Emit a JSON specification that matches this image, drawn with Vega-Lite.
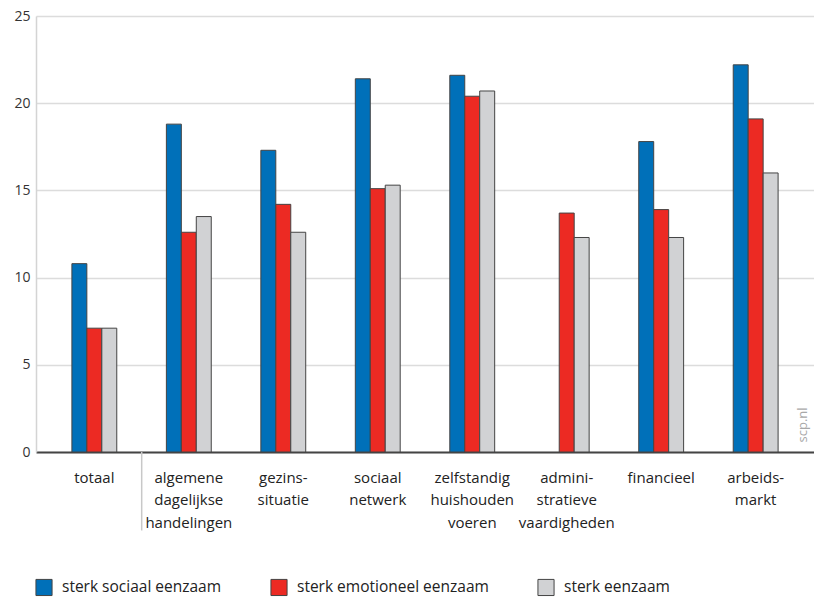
{
  "$schema": "https://vega.github.io/schema/vega-lite/v6.json",
  "width": 778,
  "height": 436,
  "autosize": {"type": "none"},
  "padding": {"left": 36, "top": 16, "right": 0, "bottom": 147},
  "background": "white",
  "config": {
    "view": {"stroke": null},
    "font": "Open Sans"
  },
  "datasets": {
    "bars": [
      {"cat": "totaal", "serie": "sterk sociaal eenzaam", "waarde": 10.8},
      {"cat": "totaal", "serie": "sterk emotioneel eenzaam", "waarde": 7.1},
      {"cat": "totaal", "serie": "sterk eenzaam", "waarde": 7.1},
      {"cat": "algemene|dagelijkse|handelingen", "serie": "sterk sociaal eenzaam", "waarde": 18.8},
      {"cat": "algemene|dagelijkse|handelingen", "serie": "sterk emotioneel eenzaam", "waarde": 12.6},
      {"cat": "algemene|dagelijkse|handelingen", "serie": "sterk eenzaam", "waarde": 13.5},
      {"cat": "gezins-|situatie", "serie": "sterk sociaal eenzaam", "waarde": 17.3},
      {"cat": "gezins-|situatie", "serie": "sterk emotioneel eenzaam", "waarde": 14.2},
      {"cat": "gezins-|situatie", "serie": "sterk eenzaam", "waarde": 12.6},
      {"cat": "sociaal|netwerk", "serie": "sterk sociaal eenzaam", "waarde": 21.4},
      {"cat": "sociaal|netwerk", "serie": "sterk emotioneel eenzaam", "waarde": 15.1},
      {"cat": "sociaal|netwerk", "serie": "sterk eenzaam", "waarde": 15.3},
      {"cat": "zelfstandig|huishouden|voeren", "serie": "sterk sociaal eenzaam", "waarde": 21.6},
      {"cat": "zelfstandig|huishouden|voeren", "serie": "sterk emotioneel eenzaam", "waarde": 20.4},
      {"cat": "zelfstandig|huishouden|voeren", "serie": "sterk eenzaam", "waarde": 20.7},
      {"cat": "admini-|stratieve|vaardigheden", "serie": "sterk emotioneel eenzaam", "waarde": 13.7},
      {"cat": "admini-|stratieve|vaardigheden", "serie": "sterk eenzaam", "waarde": 12.3},
      {"cat": "financieel", "serie": "sterk sociaal eenzaam", "waarde": 17.8},
      {"cat": "financieel", "serie": "sterk emotioneel eenzaam", "waarde": 13.9},
      {"cat": "financieel", "serie": "sterk eenzaam", "waarde": 12.3},
      {"cat": "arbeids-|markt", "serie": "sterk sociaal eenzaam", "waarde": 22.2},
      {"cat": "arbeids-|markt", "serie": "sterk emotioneel eenzaam", "waarde": 19.1},
      {"cat": "arbeids-|markt", "serie": "sterk eenzaam", "waarde": 16.0}
    ],
    "sep": [{"cat": "algemene|dagelijkse|handelingen", "y0": 0, "y1": -4.5}],
    "bron": [{"cat": "arbeids-|markt", "tekst": "scp.nl", "y": 1.55}]
  },
  "layer": [
    {
      "data": {"name": "bars"},
      "mark": {"type": "bar", "stroke": "#444444", "strokeWidth": 1},
      "encoding": {
        "x": {
          "field": "cat", "type": "nominal", "sort": null,
          "scale": {
            "domain": ["totaal", "algemene|dagelijkse|handelingen", "gezins-|situatie", "sociaal|netwerk", "zelfstandig|huishouden|voeren", "admini-|stratieve|vaardigheden", "financieel", "arbeids-|markt"],
            "paddingInner": 0.525, "paddingOuter": 0.38
          },
          "axis": {
            "title": null,
            "labelExpr": "split(datum.label, '|')",
            "labelAngle": 0,
            "labelFontSize": 15,
            "labelColor": "#222222",
            "labelLineHeight": 22.5,
            "labelPadding": 18,
            "labelLimit": 200,
            "ticks": false,
            "domainColor": "#444444",
            "domainWidth": 2,
            "grid": false
          }
        },
        "xOffset": {
          "field": "serie", "type": "nominal",
          "sort": ["sterk sociaal eenzaam", "sterk emotioneel eenzaam", "sterk eenzaam"],
          "scale": {"domain": ["sterk sociaal eenzaam", "sterk emotioneel eenzaam", "sterk eenzaam"], "paddingInner": 0, "paddingOuter": 0}
        },
        "y": {
          "field": "waarde", "type": "quantitative",
          "scale": {"domain": [0, 25], "nice": false, "zero": true},
          "axis": {
            "title": null,
            "values": [0, 5, 10, 15, 20, 25],
            "ticks": false,
            "labelFontSize": 14,
            "labelColor": "#333333",
            "labelPadding": 6,
            "domainColor": "#d4d4d4",
            "domainWidth": 1.5,
            "gridColor": "#dcdcdc",
            "gridWidth": 1.5
          }
        },
        "color": {
          "field": "serie", "type": "nominal",
          "scale": {
            "domain": ["sterk sociaal eenzaam", "sterk emotioneel eenzaam", "sterk eenzaam"],
            "range": ["#0070b9", "#ec2a23", "#d1d2d4"]
          },
          "legend": {
            "title": null,
            "orient": "none",
            "direction": "horizontal",
            "legendX": -1,
            "legendY": 562,
            "symbolType": "square",
            "symbolSize": 260,
            "symbolStrokeColor": "#444444",
            "symbolStrokeWidth": 1,
            "labelFontSize": 15.5,
            "labelColor": "#222222",
            "labelOffset": 9,
            "labelLimit": 300,
            "columnPadding": 46
          }
        }
      }
    },
    {
      "data": {"name": "sep"},
      "mark": {"type": "rule", "color": "#c8c8c8", "strokeWidth": 1.5},
      "encoding": {
        "x": {"field": "cat", "type": "nominal", "bandPosition": -0.55},
        "y": {"field": "y0", "type": "quantitative"},
        "y2": {"field": "y1"}
      }
    },
    {
      "data": {"name": "bron"},
      "mark": {"type": "text", "angle": 270, "fontSize": 13, "color": "#a8a8a8", "align": "center", "baseline": "middle"},
      "encoding": {
        "x": {"field": "cat", "type": "nominal", "bandPosition": 1.55},
        "y": {"field": "y", "type": "quantitative"},
        "text": {"field": "tekst"}
      }
    }
  ]
}
